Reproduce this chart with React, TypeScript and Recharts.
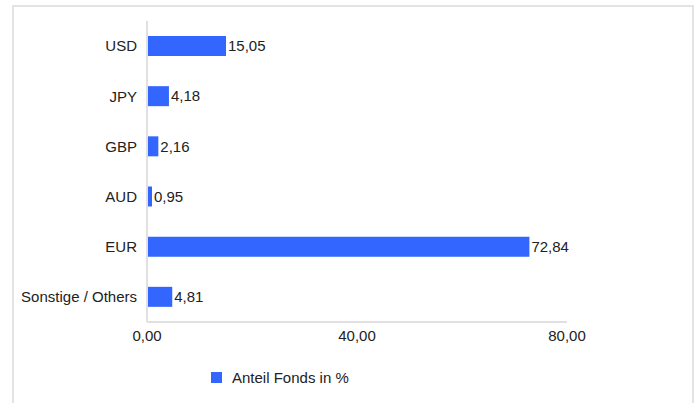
import { Bar, BarChart, XAxis, YAxis, Legend, LabelList } from 'recharts'

// Currency allocation of the fund (share in %)
const currencies = ['USD', 'JPY', 'GBP', 'AUD', 'EUR', 'Sonstige / Others']
const shares = [15.05, 4.18, 2.16, 0.95, 72.84, 4.81]
const xTicks = [0, 40, 80]

const data = currencies.map((name, i) => ({ name, value: shares[i] }))

const fmt = (v: number) => v.toFixed(2).replace('.', ',')

const FONT = '"Liberation Sans", Arial, sans-serif'
const BLUE = '#3366ff'

function LegendBox() {
  return (
    <div style={{ display: 'flex', alignItems: 'center', fontFamily: FONT, fontSize: 15, color: '#222', height: 18 }}>
      <span style={{ width: 11, height: 11, background: BLUE, display: 'inline-block', marginRight: 10 }} />
      <span>Anteil Fonds in %</span>
    </div>
  )
}

export default function App() {
  return (
    <div style={{ position: 'absolute', left: 0, top: 0, width: 697, height: 403, overflow: 'hidden', background: '#fff' }}>
      <div
        style={{
          position: 'absolute',
          left: 12,
          top: 5,
          width: 678,
          height: 430,
          border: '2px solid #e3e3e3',
        }}
      />
      <div style={{ position: 'absolute', left: 0, top: 0 }}>
        <BarChart
          layout='vertical'
          width={697}
          height={403}
          data={data}
          margin={{ top: 21, right: 130, bottom: 33, left: 0 }}
          barSize={20}
        >
          <XAxis
            type='number'
            domain={[0, 80]}
            ticks={xTicks}
            tickFormatter={fmt}
            tickLine={false}
            axisLine={{ stroke: '#e0e0e0', strokeWidth: 2 }}
            tick={{ fill: '#222', fontSize: 15, fontFamily: FONT }}
            height={30}
            interval={0}
          />
          <YAxis
            type='category'
            dataKey='name'
            width={147}
            tickLine={false}
            tickMargin={4}
            axisLine={{ stroke: '#e0e0e0', strokeWidth: 2 }}
            tick={{ fill: '#222', fontSize: 15, fontFamily: FONT }}
            interval={0}
          />
          <Legend
            content={() => <LegendBox />}
            wrapperStyle={{ position: 'absolute', left: 211, top: 368, width: 'auto' }}
          />
          <Bar dataKey='value' fill={BLUE} isAnimationActive={false}>
            <LabelList
              dataKey='value'
              position='right'
              offset={2}
              formatter={(v: any) => fmt(Number(v))}
              style={{ fill: '#222', fontSize: 15, fontFamily: FONT }}
            />
          </Bar>
        </BarChart>
      </div>
    </div>
  )
}
